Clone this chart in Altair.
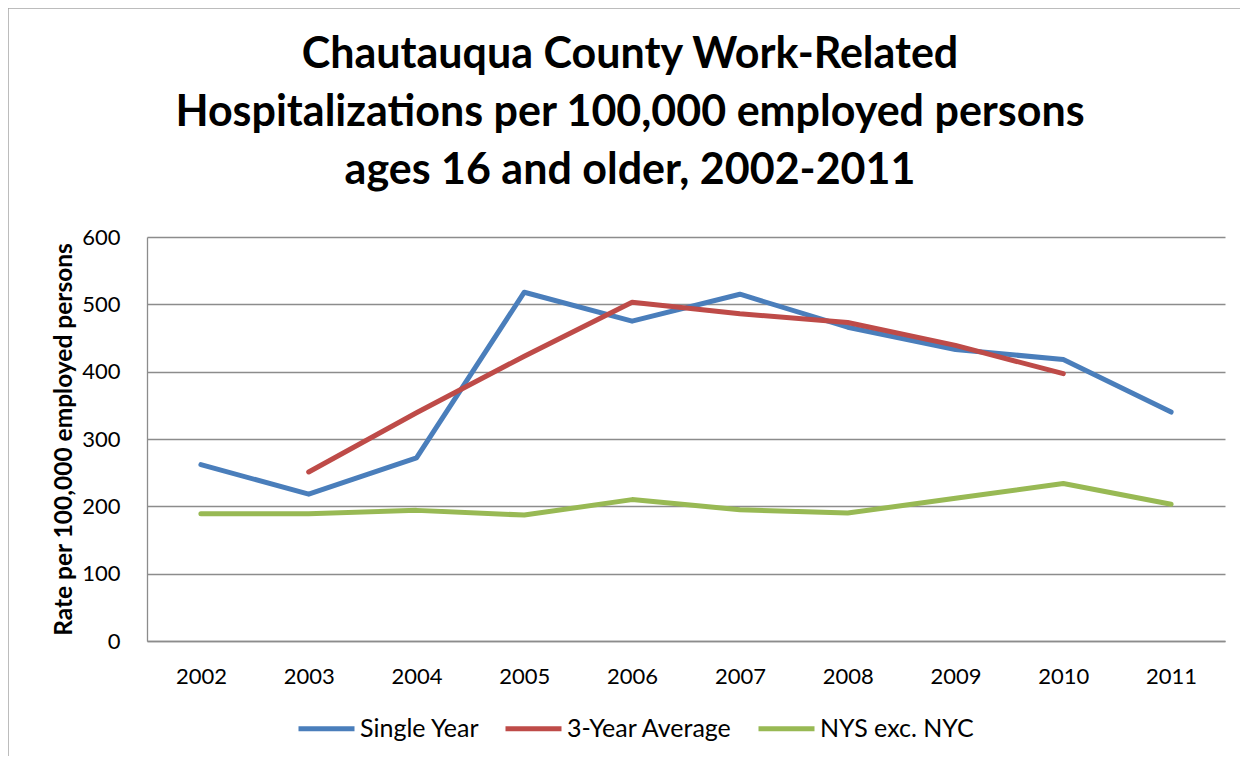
import altair as alt
import pandas as pd

years = ["2002", "2003", "2004", "2005", "2006", "2007", "2008", "2009", "2010", "2011"]
single_year = [262, 218, 272, 518, 475, 515, 466, 433, 418, 340]
three_year_avg = [None, 251, 339, 423, 503, 486, 473, 439, 397, None]
nys_exc_nyc = [189, 189, 194, 187, 210, 195, 190, 212, 234, 203]

series_names = ["Single Year", "3-Year Average", "NYS exc. NYC"]
series_colors = ["#4A7EBB", "#BE4B48", "#98B954"]

rows = []
for name, vals in zip(series_names, [single_year, three_year_avg, nys_exc_nyc]):
    for y, v in zip(years, vals):
        if v is not None:
            rows.append({"Year": y, "Series": name, "Rate": v})
df = pd.DataFrame(rows)

FONT = "Lato"

lines = alt.Chart(df).mark_line(strokeWidth=5, strokeCap="round", strokeJoin="round").encode(
    x=alt.X("Year:O", sort=years,
            scale=alt.Scale(type="point", padding=0.5),
            axis=alt.Axis(title=None, labelAngle=0, ticks=False, grid=False,
                          labelFontSize=22, labelFont=FONT, labelColor="black",
                          labelPadding=25, domainColor="#8C8C8C", domainWidth=1.3)),
    y=alt.Y("Rate:Q", scale=alt.Scale(domain=[0, 600], nice=False),
            axis=alt.Axis(title="Rate per 100,000 employed persons", values=[0, 100, 200, 300, 400, 500, 600],
                          ticks=False, labelFontSize=22, labelFont=FONT, labelColor="black",
                          labelPadding=27, gridColor="#8C8C8C", gridWidth=1.3,
                          domainColor="#8C8C8C", domainWidth=1.3,
                          titleFontSize=24.5, titleFont=FONT, titleFontWeight="bold",
                          titleColor="black", titlePadding=5)),
    color=alt.Color("Series:N", sort=series_names,
                    scale=alt.Scale(domain=series_names, range=series_colors),
                    legend=alt.Legend(title=None, orient="none", direction="horizontal",
                                      legendX=149, legendY=461,
                                      symbolType="stroke", symbolSize=3136, symbolStrokeWidth=5,
                                      labelFontSize=25, labelFont=FONT, labelColor="black",
                                      labelLimit=400, labelOffset=3, columnPadding=15)),
)

frame = alt.Chart(pd.DataFrame({"a": [0]})).mark_rect(fill="transparent", stroke="#A6A6A6", strokeWidth=1.5).encode(
    x=alt.value(-139), x2=alt.value(1200), y=alt.value(-229), y2=alt.value(530)
)

chart = alt.layer(frame, lines).properties(
    width=1078, height=404,
    padding={"left": 139, "top": 229, "right": 15, "bottom": 115},
    autosize=alt.AutoSizeParams(type="none"),
    title=alt.TitleParams(
        text=["Chautauqua County Work-Related",
              "Hospitalizations per 100,000 employed persons",
              "ages 16 and older, 2002-2011"],
        fontSize=43, font=FONT, fontWeight="bold", color="black",
        baseline="alphabetic",
        lineHeight=58, anchor="middle", dx=-56, offset=0, dy=220),
).configure_view(stroke=None)

chart.save("out.html", embed_options={"renderer": "svg", "actions": False})
